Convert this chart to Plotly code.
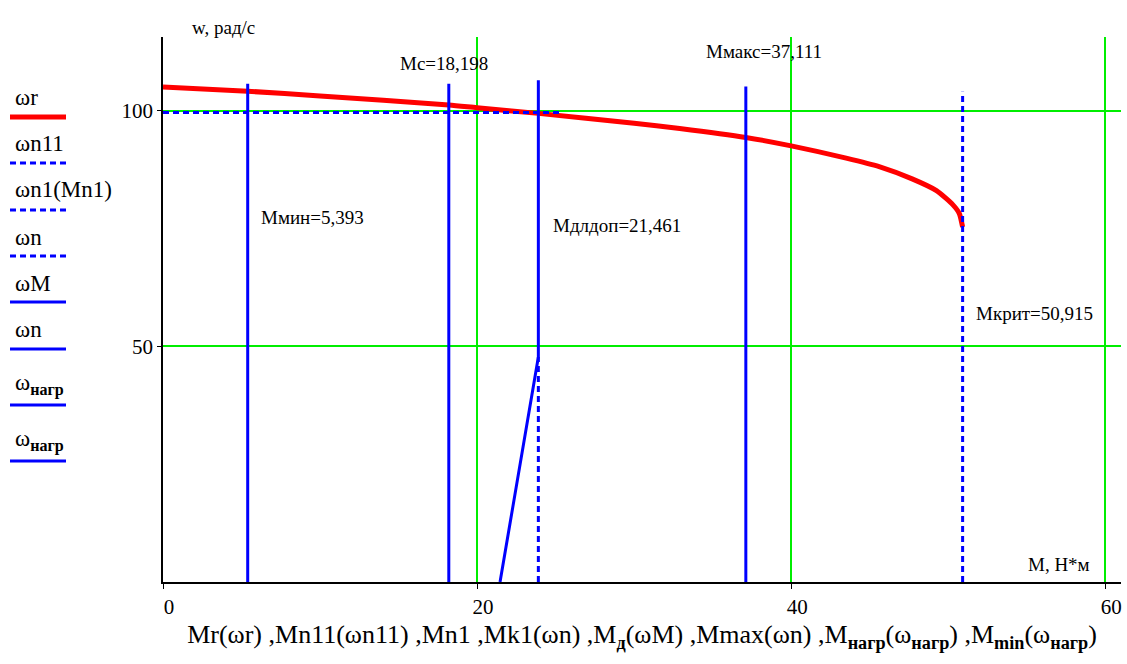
import plotly.graph_objects as go

# Mechanical characteristic of the motor, M (N*m) vs omega (rad/s)
M_r = [0, 5.393, 10, 18.198, 20, 23.9, 30, 32.9, 37.111, 40, 43.5, 45.6, 47.7, 49.25, 50.3, 50.7, 50.915]
w_r = [105.0, 104.1, 103.1, 101.2, 100.6, 99.4, 97.3, 96.2, 94.3, 92.5, 89.9, 88.1, 85.5, 83.0, 80.0, 78.2, 75.3]

# Nominal speed line
M_n11 = [0, 25.4]
w_n11 = [99.6, 99.6]

# Nominal torque marker
M_n1 = [23.9, 23.9]
w_n1 = [0, 47.7]

# Critical torque
M_krit = 50.915
w_krit = [0, 104.0]

# Allowed long-term torque characteristic
M_dl = [21.461, 23.9, 23.9]
w_M = [0, 47.7, 106.4]

# Load torques
M_max = 37.111
w_max = [0, 105.1]
M_c = 18.198
M_min = 5.393
w_load = [0, 105.7]

FIG_W, FIG_H = 1127, 664
ML, MR, MT, MB = 163, 6, 37, 82
PW, PH = FIG_W - ML - MR, FIG_H - MT - MB

def px(x):
    return (x - ML) / PW

def py(y):
    return (FIG_H - MB - y) / PH

RED = "#ff0000"
BLUE = "#0000ff"
GREEN = "#00ee00"
DOT = "6px,4px"
SERIF = "Liberation Serif, Times New Roman, serif"

fig = go.Figure()
fig.add_trace(go.Scatter(x=M_r, y=w_r, mode="lines", line=dict(color=RED, width=5, shape="spline", smoothing=0.6)))
fig.add_trace(go.Scatter(x=M_n11, y=w_n11, mode="lines", line=dict(color=BLUE, width=3, dash=DOT)))
fig.add_trace(go.Scatter(x=M_n1, y=w_n1, mode="lines", line=dict(color=BLUE, width=3, dash=DOT)))
fig.add_trace(go.Scatter(x=[M_krit, M_krit], y=w_krit, mode="lines", line=dict(color=BLUE, width=3, dash=DOT)))
fig.add_trace(go.Scatter(x=M_dl, y=w_M, mode="lines", line=dict(color=BLUE, width=3)))
fig.add_trace(go.Scatter(x=[M_max, M_max], y=w_max, mode="lines", line=dict(color=BLUE, width=3)))
fig.add_trace(go.Scatter(x=[M_c, M_c], y=w_load, mode="lines", line=dict(color=BLUE, width=3)))
fig.add_trace(go.Scatter(x=[M_min, M_min], y=w_load, mode="lines", line=dict(color=BLUE, width=3)))

def fmt(v):
    return f"{v:.3f}".replace(".", ",")

anns = [
    ("w, рад/с", 190, 27, 19),
    (f"Mc={fmt(M_c)}", 398, 63, 19),
    (f"Mмакс={fmt(M_max)}", 704, 52, 19),
    (f"Mмин={fmt(M_min)}", 259, 218, 19),
    (f"Mдлдоп={fmt(M_dl[0])}", 551, 225, 19),
    (f"Mкрит={fmt(M_krit)}", 974, 313, 19),
    ("M, H*м", 1026, 564, 19),
]
annotations = []
for text, x, y, size in anns:
    annotations.append(dict(text=text, x=px(x), y=py(y), xref="paper", yref="paper",
                            xanchor="left", yanchor="middle", showarrow=False,
                            font=dict(family=SERIF, size=size, color="black")))

# Legend block on the left
SUB = "<sub><b>нагр</b></sub>"
legend_items = [
    ("ωr", 97, 117, RED, 5, "solid"),
    ("ωn11", 143, 163, BLUE, 3, DOT),
    ("ωn1(Mn1)", 190, 210, BLUE, 3, DOT),
    ("ωn", 237, 256, BLUE, 3, DOT),
    ("ωM", 283, 302, BLUE, 3, "solid"),
    ("ωn", 329, 349, BLUE, 3, "solid"),
    ("ω" + SUB, 384, 405, BLUE, 3, "solid"),
    ("ω" + SUB, 440, 461, BLUE, 3, "solid"),
]
shapes = []
for text, ty, ly, color, width, dash in legend_items:
    annotations.append(dict(text=text, x=px(13), y=py(ty), xref="paper", yref="paper",
                            xanchor="left", yanchor="middle", showarrow=False,
                            font=dict(family=SERIF, size=23, color="black")))
    shapes.append(dict(type="line", xref="paper", yref="paper",
                       x0=px(10), x1=px(66), y0=py(ly), y1=py(ly),
                       line=dict(color=color, width=width, dash=dash)))

def sub(s):
    return f"<sub><b>{s}</b></sub>"

xtitle = ("Mr(ωr) ,Mn11(ωn11) ,Mn1 ,Mk1(ωn) ,M" + sub("д") + "(ωM) ,Mmax(ωn) ,"
          "M" + sub("нагр") + "(ω" + sub("нагр") + ") ,M" + sub("min") + "(ω" + sub("нагр") + ")")

fig.update_layout(
    width=FIG_W, height=FIG_H,
    margin=dict(l=ML, r=MR, t=MT, b=MB),
    paper_bgcolor="white", plot_bgcolor="white",
    showlegend=False,
    annotations=annotations,
    shapes=shapes,
    font=dict(family=SERIF, color="black"),
)
fig.update_xaxes(
    range=[0, 61], tickvals=[0, 20, 40, 60], ticktext=["0", "20", "40", "60"],
    showgrid=True, gridcolor=GREEN, gridwidth=1.5, zeroline=False,
    showline=True, linecolor="black", linewidth=1.5,
    ticks="outside", ticklen=5, tickcolor="black",
    tickfont=dict(family=SERIF, size=21), ticklabelshift=6,
    title=dict(text=xtitle, font=dict(family=SERIF, size=26), standoff=7),
)
fig.update_yaxes(
    range=[0, 115.6], tickvals=[50, 100],
    showgrid=True, gridcolor=GREEN, gridwidth=1.5, zeroline=False,
    showline=True, linecolor="black", linewidth=1.5,
    ticks="outside", ticklen=4, tickcolor="black",
    tickfont=dict(family=SERIF, size=21),
)

fig.write_html("out.html")
